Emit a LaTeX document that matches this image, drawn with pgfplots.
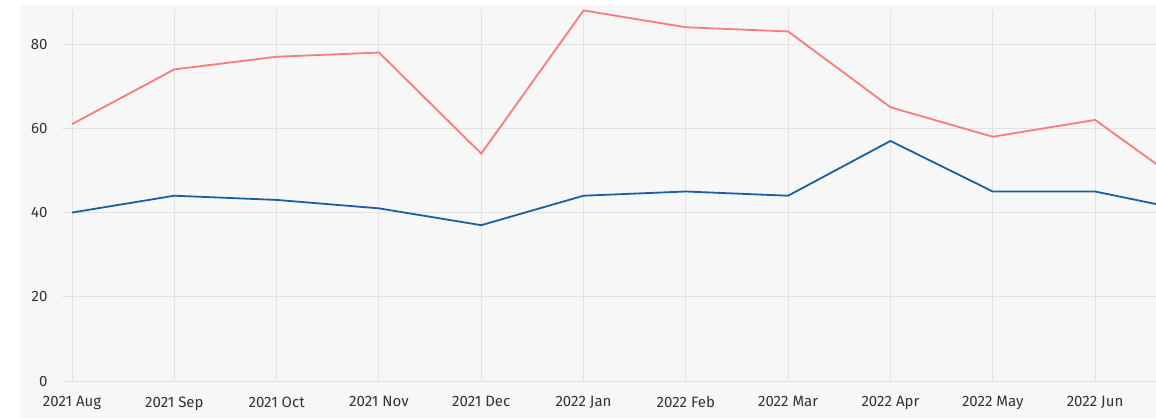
\documentclass[border=0pt]{standalone}
\usepackage{fontspec}
\setmainfont{Fira Sans}
\usepackage{pgfplots}
\pgfplotsset{compat=1.18}
\definecolor{bgc}{HTML}{F7F7F7}
\definecolor{gridc}{HTML}{E2E2E2}
\definecolor{redc}{HTML}{FF7B7B}
\definecolor{bluec}{HTML}{1B5FA3}
\definecolor{txt}{HTML}{333333}
\begin{document}
\begin{tikzpicture}[x=1pt,y=1pt]
\path[use as bounding box] (0,0) rectangle (1156,418);
\fill[white] (0,0) rectangle (1156,418);
\fill[bgc] (20,0) rectangle (1156,413);
\begin{axis}[
  at={(62pt,37pt)}, anchor=south west,
  scale only axis, width=1094pt, height=371pt,
  xmin=-0.098, xmax=10.596, ymin=0, ymax=88.1,
  axis line style={draw=none},
  major tick length=0pt,
  xtick={0,...,10},
  xticklabels={2021 Aug,2021 Sep,2021 Oct,2021 Nov,2021 Dec,2022 Jan,2022 Feb,2022 Mar,2022 Apr,2022 May,2022 Jun},
  ytick={0,20,40,60,80},
  grid=major,
  major grid style={gridc, line width=1pt},
  tick label style={font=\fontsize{15}{17}\selectfont, text=txt},
  /pgf/number format/assume math mode=true,
  xticklabel style={yshift=-12pt},
  yticklabel style={xshift=-11pt},
  clip=true,
]
\addplot[redc, line width=1.8pt] coordinates {(0,61) (1,74) (2,77) (3,78) (4,54) (5,88) (6,84) (7,83) (8,65) (9,58) (10,62) (11,44.5)};
\addplot[bluec, line width=1.8pt] coordinates {(0,40) (1,44) (2,43) (3,41) (4,37) (5,44) (6,45) (7,44) (8,57) (9,45) (10,45) (11,40)};
\end{axis}
\end{tikzpicture}
\end{document}
